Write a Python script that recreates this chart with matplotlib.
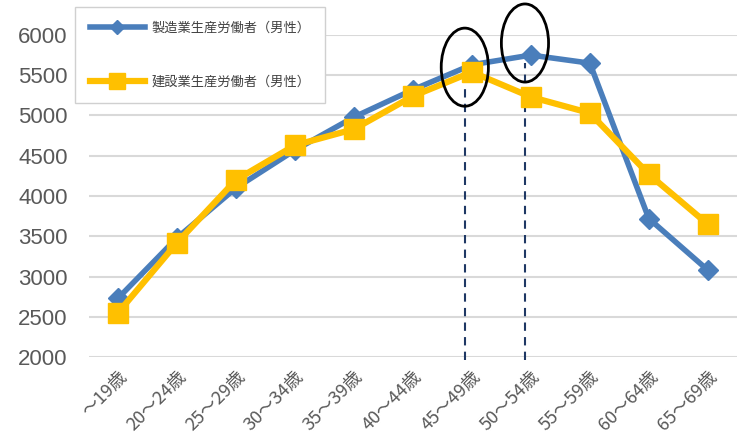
import numpy as np
import matplotlib.pyplot as plt
from matplotlib.patches import Ellipse

# age groups and monthly-ish values
ages = ['～19歳', '20～24歳', '25～29歳', '30～34歳', '35～39歳', '40～44歳',
        '45～49歳', '50～54歳', '55～59歳', '60～64歳', '65～69歳']
seizo = [2730, 3480, 4100, 4570, 4980, 5320, 5630, 5750, 5650, 3720, 3080]
kensetsu = [2550, 3420, 4200, 4630, 4830, 5240, 5540, 5230, 5030, 4270, 3650]
label_seizo = '製造業生産労働者（男性）'
label_kensetsu = '建設業生産労働者（男性）'

fig = plt.figure(figsize=(7.38, 4.37), dpi=100)
ax = fig.add_axes([0.12, 0.183, 0.879, 0.737])

x = np.arange(len(ages))
ax.plot(x, seizo, color='#4A7EBB', lw=4, marker='D', ms=10, label=label_seizo, zorder=3)
ax.plot(x, kensetsu, color='#FFC000', lw=4.5, marker='s', ms=15, label=label_kensetsu, zorder=4)

ax.set_xlim(-0.5, len(ages) - 0.5)
ax.set_ylim(2000, 6000)
ax.set_yticks(np.arange(2000, 6001, 500))
ax.grid(axis='y', color='#D9D9D9', lw=1.5, zorder=0)
ax.set_axisbelow(True)
for s in ax.spines.values():
    s.set_visible(False)
ax.tick_params(length=0)
ax.tick_params(axis='y', labelsize=16, labelcolor='#595959', pad=15)
for t in ax.get_yticklabels():
    t.set_family(['Liberation Sans', 'DejaVu Sans'])

ax.set_xticks(x)
ax.set_xticklabels(ages, rotation=45, ha='right', rotation_mode='anchor',
                   fontsize=13, color='#595959', family=['Noto Sans CJK JP', 'DejaVu Sans'])
ax.tick_params(axis='x', pad=8)

# dashed guide lines and circled peaks
ax.plot([5.88, 5.88], [1960, 5440], ls=(0, (4, 3)), color='#1F3864', lw=1.5, clip_on=False, zorder=2)
ax.plot([6.9, 6.9], [1960, 5650], ls=(0, (4, 3)), color='#1F3864', lw=1.5, clip_on=False, zorder=2)
ax.add_patch(Ellipse((5.88, 5600), 0.8, 970, fill=False, ec='black', lw=2, clip_on=False, zorder=5))
ax.add_patch(Ellipse((6.9, 5900), 0.8, 970, fill=False, ec='black', lw=2, clip_on=False, zorder=5))

leg = fig.legend(loc='upper left', bbox_to_anchor=(75 / 738, 1 - 7 / 437),
                 prop={'family': ['Noto Sans CJK JP', 'DejaVu Sans'], 'size': 9.5},
                 labelspacing=3.1, handlelength=4.2, handletextpad=0.5, borderpad=1.1,
                 borderaxespad=0, markerscale=0.75, fancybox=False,
                 edgecolor='#D0D0D0', framealpha=1)
for t in leg.get_texts():
    t.set_color('#404040')

fig.savefig('out.png', dpi=100)
